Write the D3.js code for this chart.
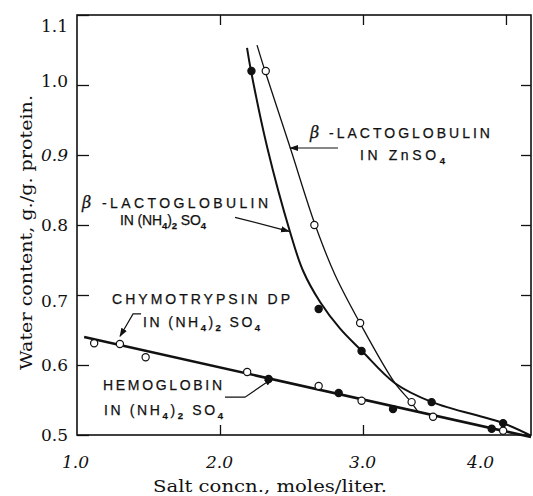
<!DOCTYPE html>
<html>
<head>
<meta charset="utf-8">
<script src="https://cdn.jsdelivr.net/npm/d3@7"></script>
<style>
  body { margin: 0; background: #fff; }
  .tick text { font-family: "DejaVu Serif", serif; font-size: 17px; fill: #111; }
  .note { font-family: "Liberation Sans", Arial, sans-serif; font-size: 14px; fill: #111; stroke: #111; stroke-width: 0.25px; }
</style>
</head>
<body>
<script>
// set the dimensions and margins of the graph
var width = 533
var height = 496
var margin = {top: 15, right: 2, bottom: 61, left: 77}

// points: [salt concn. (moles/liter), water content (g./g. protein)]
var lactoZnPoints = [[2.32, 1.02], [2.66, 0.80], [2.98, 0.66], [3.34, 0.547], [3.98, 0.506]]
var lactoNH4Points = [[2.22, 1.02], [2.69, 0.68], [2.99, 0.62], [3.48, 0.547], [3.98, 0.517]]
var chymoPoints = [[1.12, 0.631], [1.30, 0.630], [1.48, 0.611], [2.19, 0.590], [2.69, 0.570], [2.99, 0.549], [3.49, 0.526]]
var hemoPoints = [[2.34, 0.580], [2.83, 0.560], [3.21, 0.537], [3.90, 0.509]]

// the drawn (hand fitted) curves
var lactoZnCurve = [[2.259, 1.057], [2.315, 1.02], [2.49, 0.911], [2.664, 0.801], [2.804, 0.729], [2.979, 0.66], [3.224, 0.574], [3.336, 0.547], [3.385, 0.533]]
var lactoNH4Curve = [[2.189, 1.053], [2.217, 1.02], [2.33, 0.911], [2.49, 0.79], [2.58, 0.735], [2.70, 0.69], [2.84, 0.652], [2.993, 0.62], [3.224, 0.574], [3.483, 0.547], [3.979, 0.517], [4.175, 0.499]]
var commonLine = [[1.05, 0.640], [4.175, 0.497]]

// axis ticks
var xTicks = [1.0, 2.0, 3.0, 4.0]
var yTicks = [0.5, 0.6, 0.7, 0.8, 0.9, 1.0, 1.1]

// append the svg object to the body of the page
var svg = d3.select("body")
  .append("svg")
    .attr("width", width)
    .attr("height", height)

var x = d3.scaleLinear().domain([1.0, 4.175]).range([margin.left, width - margin.right])
var y = d3.scaleLinear().domain([0.5, 1.1]).range([height - margin.bottom, margin.top])

// arrow head
svg.append("defs").append("marker")
    .attr("id", "arrow")
    .attr("viewBox", "0 0 10 10")
    .attr("refX", 9).attr("refY", 5)
    .attr("markerWidth", 9).attr("markerHeight", 9)
    .attr("markerUnits", "userSpaceOnUse")
    .attr("orient", "auto")
  .append("path")
    .attr("d", "M0,1.5 L10,5 L0,8.5 Z")
    .attr("fill", "#111")

// axes, ticks pointing inwards
var gx = svg.append("g")
    .attr("transform", "translate(0," + y(0.5) + ")")
    .call(d3.axisBottom(x).tickValues(xTicks).tickSize(-10).tickPadding(21).tickFormat(d3.format(".1f")))
gx.selectAll(".tick line").filter(function(d){ return d == 1.0 || d == 4.0 }).remove()
gx.selectAll(".tick text").style("font-style", "italic")
  .attr("dx", function(d){ return d == 4.0 ? -26 : (d == 1.0 ? -2 : -1) })

var gy = svg.append("g")
    .attr("transform", "translate(" + x(1.0) + ",0)")
    .call(d3.axisLeft(y).tickValues(yTicks).tickSize(-12).tickPadding(9).tickFormat(d3.format(".1f")))
gy.selectAll(".tick text")
  .attr("dy", function(d){ return d == 1.1 ? "0.95em" : (d == 1.0 ? "0.1em" : (d == 0.7 ? "0.7em" : "0.32em")) })
  .style("font-style", function(d){ return d == 0.9 ? "italic" : "normal" })

svg.append("g")
    .attr("transform", "translate(0," + y(1.1) + ")")
    .call(d3.axisTop(x).tickValues([2.0, 3.0, 4.0]).tickSize(-10).tickFormat(""))

svg.append("g")
    .attr("transform", "translate(" + x(4.175) + ",0)")
    .call(d3.axisRight(y).tickValues([0.6, 0.7, 0.8, 0.9, 1.0]).tickSize(-10).tickFormat(""))

svg.selectAll(".domain").remove()
svg.selectAll(".tick line").attr("stroke", "#111").attr("stroke-width", 1.3)

// frame
svg.append("rect")
    .attr("x", x(1.0)).attr("y", y(1.1))
    .attr("width", x(4.175) - x(1.0)).attr("height", y(0.5) - y(1.1))
    .attr("fill", "none").attr("stroke", "#111").attr("stroke-width", 1.6)

// axis titles
svg.append("text")
    .attr("x", 153).attr("y", 492)
    .attr("textLength", 234).attr("lengthAdjust", "spacingAndGlyphs")
    .style("font-family", "DejaVu Serif, serif").style("font-size", "17px").style("fill", "#111")
    .text("Salt concn., moles/liter.")

svg.append("text")
    .attr("transform", "translate(32,370) rotate(-90)")
    .attr("textLength", 275).attr("lengthAdjust", "spacingAndGlyphs")
    .style("font-family", "DejaVu Serif, serif").style("font-size", "17px").style("fill", "#111")
    .text("Water content, g./g. protein.")

// curves
var line = d3.line()
    .x(function(d){ return x(d[0]) })
    .y(function(d){ return y(d[1]) })
    .curve(d3.curveCatmullRom.alpha(0.5))

svg.append("path").datum(commonLine).attr("d", line)
    .attr("fill", "none").attr("stroke", "#111").attr("stroke-width", 2.6)
svg.append("path").datum(lactoNH4Curve).attr("d", line)
    .attr("fill", "none").attr("stroke", "#111").attr("stroke-width", 2)
svg.append("path").datum(lactoZnCurve).attr("d", line)
    .attr("fill", "none").attr("stroke", "#111").attr("stroke-width", 1.3)

// points
function drawPoints(data, filled) {
  svg.append("g")
    .selectAll("circle")
    .data(data)
    .enter()
    .append("circle")
      .attr("cx", function(d){ return x(d[0]) })
      .attr("cy", function(d){ return y(d[1]) })
      .attr("r", 3.6)
      .attr("fill", filled ? "#111" : "#fff")
      .attr("stroke", "#111")
      .attr("stroke-width", 1.2)
}
drawPoints(chymoPoints, false)
drawPoints(lactoZnPoints, false)
drawPoints(hemoPoints, true)
drawPoints(lactoNH4Points, true)

// labels written on the figure
function noteLine(px, py, len, parts) {
  var t = svg.append("text").attr("class", "note")
      .attr("x", x(px)).attr("y", y(py))
      .attr("textLength", len).attr("lengthAdjust", "spacing")
  parts.forEach(function(p){
    var s = t.append("tspan").text(p[0])
    if (p[1] == "sub") s.attr("baseline-shift", "-4").style("font-size", "9.5px").style("font-weight", "bold")
    if (p[1] == "beta") s.style("font-family", "DejaVu Serif, serif").style("font-style", "italic").style("font-size", "16px")
  })
}
var nh4 = [["IN (NH"], ["4", "sub"], [")"], ["2", "sub"], [" SO"], ["4", "sub"]]

noteLine(2.629, 0.924, 180, [["β", "beta"], [" -LACTOGLOBULIN"]])
noteLine(2.979, 0.893, 85, [["IN ZnSO"], ["4", "sub"]])
noteLine(1.035, 0.824, 186, [["β", "beta"], [" -LACTOGLOBULIN"]])
noteLine(1.301, 0.800, 86, nh4)
noteLine(1.245, 0.687, 178, [["CHYMOTRYPSIN DP"]])
noteLine(1.462, 0.654, 117, nh4)
noteLine(1.182, 0.564, 119, [["HEMOGLOBIN"]])
noteLine(1.189, 0.529, 119, nh4)

// leader arrows
function arrow(pts) {
  svg.append("path").datum(pts)
      .attr("d", d3.line().x(function(d){ return x(d[0]) }).y(function(d){ return y(d[1]) }))
      .attr("fill", "none").attr("stroke", "#111").attr("stroke-width", 1.2)
      .attr("marker-end", "url(#arrow)")
}
arrow([[2.825, 0.910], [2.490, 0.910]])
arrow([[2.105, 0.811], [2.483, 0.791]])
arrow([[1.448, 0.673], [1.392, 0.673], [1.301, 0.641]])
arrow([[2.035, 0.554], [2.175, 0.554], [2.368, 0.581]])
</script>
</body>
</html>
